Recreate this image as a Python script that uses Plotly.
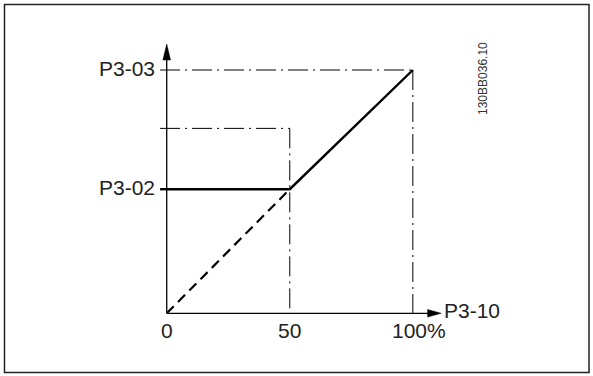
import plotly.graph_objects as go

# --- data ---
x_solid = [0, 50, 100]          # P3-10 [%]
y_solid = [51, 51, 100]         # output characteristic
x_dashed = [0, 50]
y_dashed = [0, 51]
P3_02 = 51
MID = 76
P3_03 = 100
x_tick_vals = [0, 50, 100]
x_tick_text = ["0", "50", "100%"]
y_tick_vals = [P3_02, P3_03]
y_tick_text = ["P3-02", "P3-03"]
x_axis_label = "P3-10"
doc_code = "130BB036.10"

# axis extents (data units)
X_END = 111.5
Y_END = 110.7
TICK = -2.7

FONT = "Liberation Sans, Arial, sans-serif"
DASHDOT = "20px,5px,2px,5px"

fig = go.Figure()

fig.add_trace(go.Scatter(x=x_dashed, y=y_dashed, mode="lines",
                         line=dict(color="black", width=2.2, dash="10px,6px"),
                         hoverinfo="skip", showlegend=False))
fig.add_trace(go.Scatter(x=x_solid, y=y_solid, mode="lines",
                         line=dict(color="black", width=2.4),
                         hoverinfo="skip", showlegend=False))

shapes = []
# dash-dot reference lines
shapes.append(dict(type="line", x0=TICK, x1=x_solid[2], y0=P3_03, y1=P3_03,
                   line=dict(color="black", width=1, dash=DASHDOT)))
shapes.append(dict(type="line", x0=TICK, x1=x_solid[1], y0=MID, y1=MID,
                   line=dict(color="black", width=1, dash=DASHDOT)))
shapes.append(dict(type="line", x0=x_solid[1], x1=x_solid[1], y0=MID, y1=0,
                   line=dict(color="black", width=1, dash=DASHDOT)))
shapes.append(dict(type="line", x0=x_solid[2], x1=x_solid[2], y0=P3_03, y1=0,
                   line=dict(color="black", width=1, dash=DASHDOT)))
# tick at P3-02
shapes.append(dict(type="line", x0=TICK, x1=0, y0=P3_02, y1=P3_02,
                   line=dict(color="black", width=2.4)))
# axes
shapes.append(dict(type="line", x0=0, x1=0, y0=0, y1=Y_END - 4,
                   line=dict(color="black", width=1.3)))
shapes.append(dict(type="line", x0=0, x1=X_END - 4, y0=0, y1=0,
                   line=dict(color="black", width=1.3)))
# arrow heads
yh = 6.6
xw = 1.55
shapes.append(dict(type="path",
                   path=f"M {-xw},{Y_END - yh} L 0,{Y_END} L {xw},{Y_END - yh} Z",
                   fillcolor="black", line=dict(color="black", width=0.5)))
xh = 5.5
yw = 1.55
shapes.append(dict(type="path",
                   path=f"M {X_END - xh},{-yw} L {X_END},0 L {X_END - xh},{yw} Z",
                   fillcolor="black", line=dict(color="black", width=0.5)))
# frame
shapes.append(dict(type="rect", xref="paper", yref="paper",
                   x0=4.5 / 593, x1=589 / 593, y0=1 - 372.5 / 376, y1=1 - 4.5 / 376,
                   line=dict(color="#222", width=1.5)))

annotations = []
for v, t in zip(x_tick_vals, x_tick_text):
    annotations.append(dict(x=v, y=0, text=t, showarrow=False,
                            xanchor="center", yanchor="middle",
                            xshift=6 if t.endswith("%") else 0, yshift=-17,
                            font=dict(family=FONT, size=21, color="#222")))
for v, t in zip(y_tick_vals, y_tick_text):
    annotations.append(dict(x=0, y=v, text=t, showarrow=False,
                            xanchor="right", yanchor="middle",
                            xshift=-10, yshift=2,
                            font=dict(family=FONT, size=21, color="#222")))
annotations.append(dict(x=X_END, y=0, text=x_axis_label, showarrow=False,
                        xanchor="left", yanchor="middle", xshift=1, yshift=3,
                        font=dict(family=FONT, size=21, color="#222")))
annotations.append(dict(x=483 / 593, y=1 - 79 / 376, xref="paper", yref="paper",
                        text=doc_code, showarrow=False, textangle=-90,
                        xanchor="center", yanchor="middle",
                        font=dict(family=FONT, size=12, color="#333")))

fig.update_layout(
    width=593, height=376, autosize=False,
    margin=dict(l=0, r=0, t=0, b=0),
    paper_bgcolor="white", plot_bgcolor="white",
    xaxis=dict(range=[-67.74, 173.2], visible=False, fixedrange=True),
    yaxis=dict(range=[-25.77, 128.77], visible=False, fixedrange=True),
    shapes=shapes, annotations=annotations,
    showlegend=False,
)

fig.write_html("out.html",
               config={"displayModeBar": False, "staticPlot": True},
               post_script="document.body.style.margin='0';"
                           "document.body.style.overflow='hidden';")
